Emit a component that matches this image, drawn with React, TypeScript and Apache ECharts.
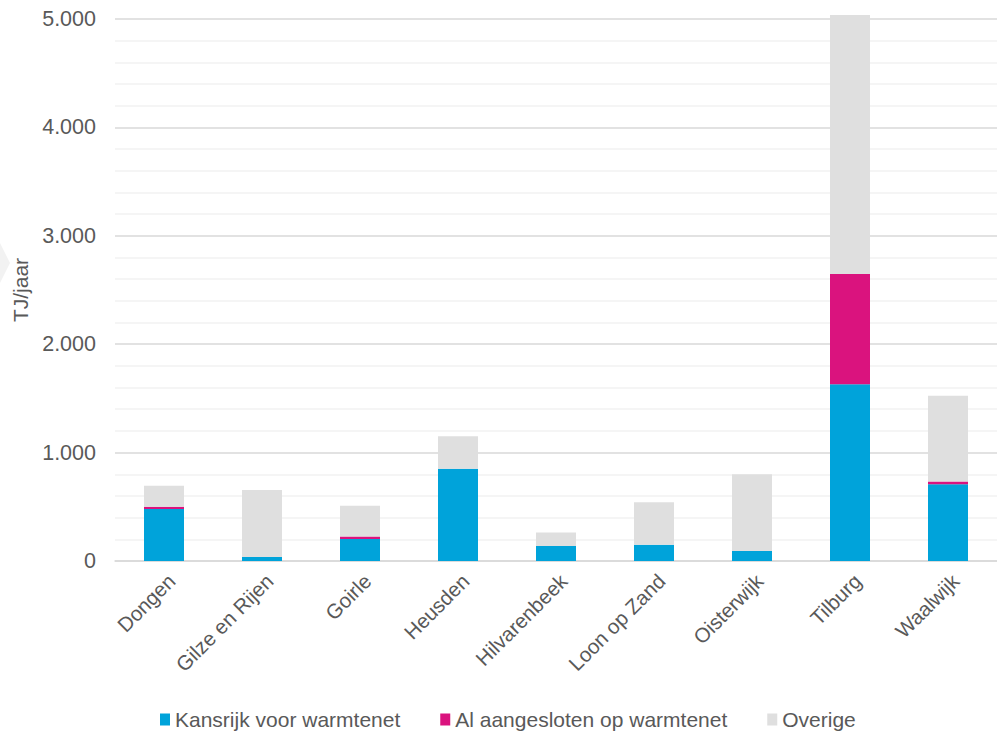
import React, { useEffect, useRef } from "react";
import * as echarts from "echarts";

const categories = ["Dongen", "Gilze en Rijen", "Goirle", "Heusden", "Hilvarenbeek", "Loon op Zand", "Oisterwijk", "Tilburg", "Waalwijk"];
const kansrijk = [480, 37, 203, 850, 138, 150, 92, 1630, 709];
const aangesloten = [20, 0, 24, 0, 0, 0, 0, 1018, 24];
const overige = [195, 619, 282, 301, 125, 393, 709, 2390, 792];
const seriesNames = ["Kansrijk voor warmtenet", "Al aangesloten op warmtenet", "Overige"];
const colors = ["#00A3DA", "#DA137E", "#DFDFDF"];

const FONT = "Arial, 'Liberation Sans', Helvetica, sans-serif";
const TEXT = "#595959";

export default function App() {
  const ref = useRef<HTMLDivElement>(null);
  useEffect(() => {
    if (!ref.current) return;
    const chart = echarts.init(ref.current, undefined, { renderer: "svg" });
    const dataSets = [kansrijk, aangesloten, overige];
    chart.setOption({
      animation: false,
      textStyle: { fontFamily: FONT },
      grid: { left: 115, top: 19, bottom: 175, width: 891, containLabel: false },
      legend: {
        left: 155,
        top: 704,
        icon: "rect",
        itemWidth: 10,
        itemHeight: 12,
        itemGap: 40,
        textStyle: { color: TEXT, fontSize: 21, fontFamily: FONT },
        data: seriesNames,
      },
      xAxis: {
        type: "category",
        data: categories,
        axisLine: { lineStyle: { color: "#D9D9D9", width: 1.5 } },
        axisTick: { show: false },
        axisLabel: {
          rotate: 45,
          color: TEXT,
          fontSize: 20.5,
          margin: 9,
          verticalAlign: "top",
          fontFamily: FONT,
          interval: 0,
        },
      },
      yAxis: {
        type: "value",
        min: 0,
        max: 5000,
        interval: 1000,
        name: "TJ/jaar",
        nameLocation: "middle",
        nameGap: 77,
        nameRotate: 90,
        nameTextStyle: { color: TEXT, fontSize: 21, fontFamily: FONT },
        axisLine: { show: false },
        axisTick: { show: false },
        axisLabel: {
          color: TEXT,
          fontSize: 21.5,
          margin: 19,
          fontFamily: FONT,
          formatter: (v: number) => String(v).replace(/\B(?=(\d{3})+(?!\d))/g, "."),
        },
        splitLine: { lineStyle: { color: "#D9D9D9", width: 1.5 } },
        minorTick: { show: false, splitNumber: 5 },
        minorSplitLine: { show: true, lineStyle: { color: "#F2F2F2", width: 1.5 } },
      },
      graphic: [
        {
          type: "polygon",
          shape: { points: [[0, 243], [10, 263], [0, 283]] },
          style: { fill: "#F2F2F2" },
          silent: true,
        },
      ],
      series: dataSets.map((d, i) => ({
        name: seriesNames[i],
        type: "bar",
        stack: "total",
        barWidth: 40,
        clip: false,
        data: d,
        itemStyle: { color: colors[i] },
      })),
    });
    return () => chart.dispose();
  }, []);
  return <div ref={ref} style={{ width: 997, height: 736, position: "absolute", left: 0, top: 0 }} />;
}
